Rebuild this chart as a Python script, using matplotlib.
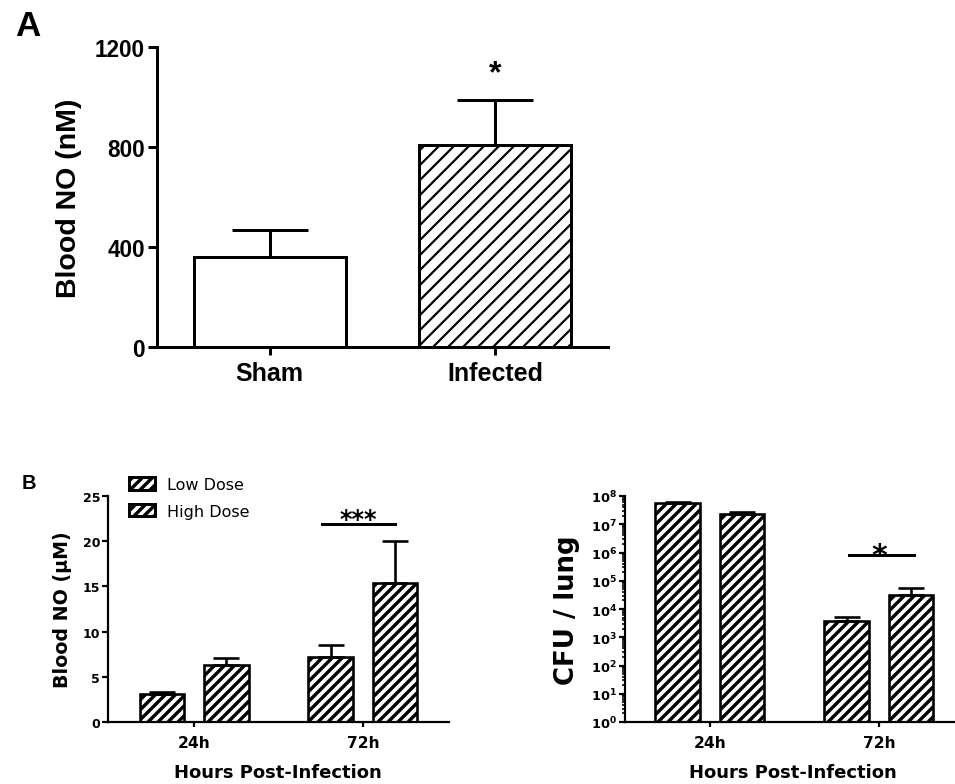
import numpy as np
import matplotlib
matplotlib.use("Agg")
import matplotlib.pyplot as plt
from matplotlib.patches import Patch
from matplotlib.ticker import LogLocator, FixedLocator, NullFormatter

# ---------------- data ----------------
a_categories = ["Sham", "Infected"]
a_values = [362, 810]
a_err = [107, 180]

b_groups = ["24h", "72h"]
b_series = ["Low Dose", "High Dose"]
no_low = [3.15, 7.15]
no_low_err = [0.18, 1.37]
no_high = [6.33, 15.37]
no_high_err = [0.71, 4.63]

cfu_low = [5.8e7, 3.9e3]
cfu_low_top = [6.3e7, 5.2e3]
cfu_high = [2.3e7, 3.2e4]
cfu_high_top = [2.7e7, 5.7e4]

a_yticks = [0, 400, 800, 1200]
b_yticks = [0, 5, 10, 15, 20, 25]
cfu_exponents = list(range(0, 9))

# ---------------- figure ----------------
W, H, DPI = 955, 785, 180
fig = plt.figure(figsize=(W / DPI, H / DPI), dpi=DPI)
fig.patch.set_facecolor("white")


def pt(px):
    return px * 72.0 / DPI


def fx(px):
    return px / W


def fy(py):
    return 1 - py / H


ARIAL = "Liberation Sans"
DV = "DejaVu Sans"
plt.rcParams["mathtext.fontset"] = "dejavusans"

A_HATCH = "////"
B_HATCH = "//////"


def set_hatch_lw(patch, lw):
    if hasattr(patch, "set_hatch_linewidth"):
        patch.set_hatch_linewidth(lw)


def style_axes(ax, lw, ticklen):
    for s in ["top", "right"]:
        ax.spines[s].set_visible(False)
    for s in ["left", "bottom"]:
        ax.spines[s].set_linewidth(lw)
    ax.tick_params(direction="out", width=lw, length=ticklen, colors="black")


# ---------------- Panel A ----------------
axA = fig.add_axes([fx(157), fy(348), (608 - 157) / W, (348 - 48) / H])
style_axes(axA, pt(3), pt(9))
xa = np.arange(len(a_categories))
plt.rcParams["hatch.linewidth"] = pt(2.2)
barsA = axA.bar(xa, a_values, width=0.675, color="white", edgecolor="black",
                linewidth=pt(3), zorder=2)
barsA[1].set_hatch(A_HATCH)
set_hatch_lw(barsA[1], pt(2.2))
axA.errorbar(xa, a_values, yerr=[np.zeros(len(a_values)), a_err], fmt="none",
             ecolor="black", elinewidth=pt(3), capsize=pt(38), capthick=pt(3),
             zorder=3)
axA.set_xlim(-0.5, 1.5)
axA.set_ylim(0, 1200)
axA.set_yticks(a_yticks)
axA.set_xticks(xa)
axA.set_xticklabels(a_categories, fontfamily=ARIAL, fontweight="bold",
                    fontsize=pt(25))
axA.set_yticklabels([str(v) for v in a_yticks], fontfamily=ARIAL,
                    fontweight="bold", fontsize=pt(22.5))
axA.tick_params(axis="x", length=pt(8), pad=pt(6))
axA.tick_params(axis="y", pad=pt(3))
axA.text(1, 1095, "*", ha="center", va="center", fontfamily=ARIAL,
         fontweight="bold", fontsize=pt(32))
fig.text(fx(69), fy(198), "Blood NO (nM)", rotation=90, ha="center",
         va="center", fontfamily=ARIAL, fontweight="bold", fontsize=pt(28.5))
fig.text(fx(28), fy(27), "A", ha="center", va="center", fontfamily=ARIAL,
         fontweight="bold", fontsize=pt(35))

# ---------------- Panel B left ----------------
xb = np.arange(len(b_groups))
off, bw = 0.19, 0.265
B_HATCH_LW = pt(3.4)
plt.rcParams["hatch.linewidth"] = B_HATCH_LW

axB = fig.add_axes([fx(108), fy(723), (449 - 108) / W, (723 - 497) / H])
style_axes(axB, pt(2.2), pt(6))
for xs, vals, errs in [(xb - off, no_low, no_low_err), (xb + off, no_high, no_high_err)]:
    bars = axB.bar(xs, vals, width=bw, color="white", edgecolor="black",
                   linewidth=pt(2.6), hatch=B_HATCH, zorder=2)
    for b in bars:
        set_hatch_lw(b, B_HATCH_LW)
    axB.errorbar(xs, vals, yerr=[np.zeros(len(vals)), errs], fmt="none",
                 ecolor="black", elinewidth=pt(2.6), capsize=pt(13),
                 capthick=pt(2.6), zorder=3)
axB.set_xlim(-0.51, 1.51)
axB.set_ylim(0, 25)
axB.set_yticks(b_yticks)
axB.set_yticklabels([str(v) for v in b_yticks], fontfamily=DV,
                    fontweight="bold", fontsize=pt(12.5))
axB.set_xticks(xb)
axB.set_xticklabels(b_groups, fontfamily=DV, fontweight="bold", fontsize=pt(15.5))
axB.tick_params(axis="x", length=pt(5), pad=pt(8))
axB.tick_params(axis="y", pad=pt(2))
axB.plot([0.76, 1.19], [21.9, 21.9], color="black", lw=pt(3), clip_on=False)
axB.text(0.97, 22.5, "***", ha="center", va="center", fontfamily=DV,
         fontweight="bold", fontsize=pt(24))
fig.text(fx(63), fy(610), "Blood NO (μM)", rotation=90, ha="center",
         va="center", fontfamily=DV, fontweight="bold", fontsize=pt(19))
fig.text(fx(278), fy(773), "Hours Post-Infection", ha="center", va="center",
         fontfamily=DV, fontweight="bold", fontsize=pt(18))
fig.text(fx(29), fy(484), "B", ha="center", va="center", fontfamily=ARIAL,
         fontweight="bold", fontsize=pt(20))

handles = []
for _ in b_series:
    p = Patch(facecolor="white", edgecolor="black", hatch=B_HATCH, linewidth=pt(3))
    set_hatch_lw(p, B_HATCH_LW)
    handles.append(p)
fig.legend(handles, b_series, loc="upper left",
           bbox_to_anchor=(fx(129), fy(478)), bbox_transform=fig.transFigure,
           frameon=False, prop={"family": DV, "size": pt(16)},
           handlelength=1.6, handleheight=0.8, handletextpad=0.8,
           labelspacing=0.72, borderpad=0, borderaxespad=0)

# ---------------- Panel B right ----------------
axC = fig.add_axes([fx(625), fy(723), (955 - 625) / W, (723 - 497) / H])
style_axes(axC, pt(2.2), pt(6))
axC.set_yscale("log")
for xs, vals, tops in [(xb - off, cfu_low, cfu_low_top), (xb + off, cfu_high, cfu_high_top)]:
    vals = np.array(vals)
    errs = np.array(tops) - vals
    bars = axC.bar(xs, vals - 1, bottom=1, width=bw, color="white",
                   edgecolor="black", linewidth=pt(2.6), hatch=B_HATCH, zorder=2)
    for b in bars:
        set_hatch_lw(b, B_HATCH_LW)
    axC.errorbar(xs, vals, yerr=[np.zeros(len(vals)), errs], fmt="none",
                 ecolor="black", elinewidth=pt(2.6), capsize=pt(13),
                 capthick=pt(2.6), zorder=3)
axC.set_xlim(-0.503, 1.45)
axC.set_ylim(1, 1e8)
axC.yaxis.set_major_locator(FixedLocator([10.0 ** e for e in cfu_exponents]))
axC.set_yticklabels([r"$\mathbf{10^{%d}}$" % e for e in cfu_exponents],
                    fontsize=pt(13))
axC.yaxis.set_minor_locator(LogLocator(base=10, subs=np.arange(2, 10) * 1.0,
                                       numticks=20))
axC.yaxis.set_minor_formatter(NullFormatter())
axC.tick_params(axis="y", which="minor", length=pt(3), width=pt(1.6))
axC.set_xticks(xb)
axC.set_xticklabels(b_groups, fontfamily=DV, fontweight="bold", fontsize=pt(15.5))
axC.tick_params(axis="x", length=pt(5), pad=pt(8))
axC.tick_params(axis="y", which="major", pad=pt(2))
axC.plot([0.82, 1.21], [8e5, 8e5], color="black", lw=pt(3), clip_on=False)
axC.text(1.0, 8e5, "*", ha="center", va="center", fontfamily=DV,
         fontweight="bold", fontsize=pt(30))
fig.text(fx(567), fy(610), "CFU / lung", rotation=90, ha="center",
         va="center", fontfamily=DV, fontweight="bold", fontsize=pt(26))
fig.text(fx(793), fy(773), "Hours Post-Infection", ha="center", va="center",
         fontfamily=DV, fontweight="bold", fontsize=pt(18))

fig.savefig("out.png", dpi=DPI, facecolor="white")
